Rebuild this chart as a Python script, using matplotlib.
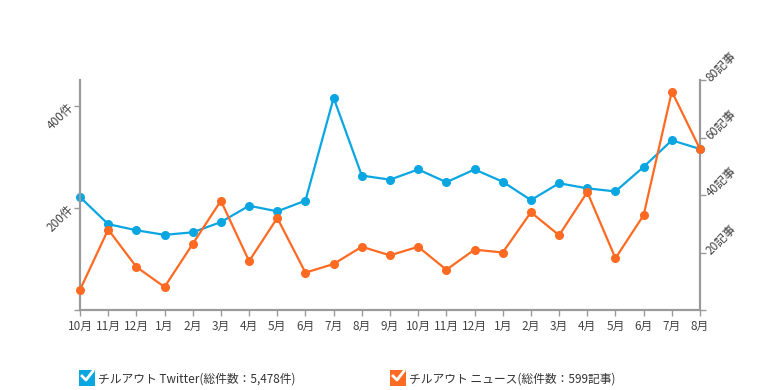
import matplotlib
matplotlib.use('Agg')
import matplotlib.pyplot as plt
from matplotlib.patches import Rectangle
from matplotlib.lines import Line2D

plt.rcParams['font.family'] = ['Noto Sans CJK JP', 'DejaVu Sans']

# Data
months = ['10月', '11月', '12月', '1月', '2月', '3月', '4月', '5月', '6月', '7月', '8月', '9月',
          '10月', '11月', '12月', '1月', '2月', '3月', '4月', '5月', '6月', '7月', '8月']
twitter = [221, 168, 156, 147, 152, 172, 204, 193, 214, 415, 263, 255,
           275, 250, 275, 251, 215, 248, 238, 232, 280, 332, 315]
news = [7, 28, 15, 8, 23, 38, 17, 32, 13, 16, 22, 19,
        22, 14, 21, 20, 34, 26, 41, 18, 33, 76, 56]

left_ticks = [0, 200, 400]
left_labels = ['', '200件', '400件']
right_ticks = [0, 20, 40, 60, 80]
right_labels = ['', '20記事', '40記事', '60記事', '80記事']

legend_labels = ['チルアウト Twitter(総件数：5,478件)', 'チルアウト ニュース(総件数：599記事)']

blue = '#0aa6e2'
orange = '#ff6a22'
axis_gray = '#9a9a9a'
text_gray = '#444444'

fig = plt.figure(figsize=(7.8, 3.9), dpi=100)
ax = fig.add_axes([80 / 780, 1 - 310 / 390, 620 / 780, 230 / 390])
ax2 = ax.twinx()

x = list(range(len(months)))
ax.plot(x, twitter, color=blue, linewidth=1.6, marker='o', markersize=5.5, clip_on=False, zorder=3)
ax2.plot(x, news, color=orange, linewidth=1.6, marker='o', markersize=5.5, clip_on=False, zorder=3)

ax.set_xlim(0, len(months) - 1)
ax.set_ylim(0, 450)
ax2.set_ylim(0, 80)

ax.set_xticks(x)
ax.set_xticklabels(months, fontsize=8.5, color=text_gray)
ax.set_yticks(left_ticks)
ax.set_yticklabels(left_labels, fontsize=8.5, color=text_gray, rotation=45,
                   ha='right', va='center', rotation_mode='anchor')
ax2.set_yticks(right_ticks)
ax2.set_yticklabels(right_labels, fontsize=8.5, color=text_gray, rotation=45,
                    ha='left', va='center', rotation_mode='anchor')

for a in (ax, ax2):
    a.spines['top'].set_visible(False)
    for s in ('left', 'right', 'bottom'):
        a.spines[s].set_color(axis_gray)
        a.spines[s].set_linewidth(1.5)
    a.tick_params(color=axis_gray, length=4, width=1)
ax.tick_params(axis='x', pad=3)
ax.tick_params(axis='y', pad=2)
ax2.tick_params(axis='y', pad=2)

# legend with check boxes
for i, (lab, col) in enumerate(zip(legend_labels, [blue, orange])):
    x0 = (79 + i * 311) / 780
    y0 = 1 - 386 / 390
    w = 16 / 780
    h = 16 / 390
    fig.patches.append(Rectangle((x0, y0), w, h, transform=fig.transFigure,
                                 facecolor=col, edgecolor='none'))
    fig.lines.append(Line2D([x0 + 3 / 780, x0 + 7 / 780, x0 + 14 / 780],
                            [y0 + 10 / 390, y0 + 6 / 390, y0 + 15 / 390],
                            transform=fig.transFigure, color='white', linewidth=2))
    fig.text(x0 + 19 / 780, 1 - 379 / 390, lab, fontsize=8.5, color='#333333',
             ha='left', va='center')

fig.savefig('out.png', dpi=100)
